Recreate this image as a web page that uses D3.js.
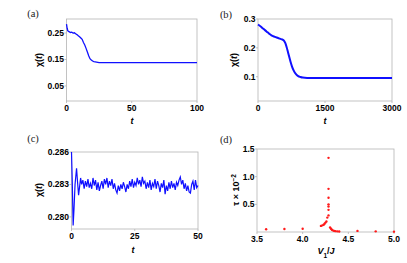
<!DOCTYPE html>
<html>
<head>
<meta charset="utf-8">
<script src="https://d3js.org/d3.v7.min.js"></script>
<style>
body { margin: 0; background: #fff; }
svg text { font-family: "Liberation Sans", Arial, sans-serif; }
.tick-label { font-size: 8.5px; font-weight: bold; fill: #000; }
.frame { fill: none; stroke: #b4b4b4; stroke-width: 0.8; }
.tk { stroke: #b4b4b4; stroke-width: 0.8; }
.plabel { font-family: "Liberation Serif", "DejaVu Serif", serif; font-size: 10.5px; fill: #222; }
.alabel { font-size: 9px; font-weight: bold; fill: #000; }
</style>
</head>
<body>
<svg width="407" height="263"></svg>
<script>
// panel (a)
var aT = [0, 0.5, 1, 1.5, 2, 3, 4, 5, 6, 7, 8, 9, 10, 11, 12, 13, 14, 15, 16, 17, 18, 19, 20, 21, 22, 23, 24, 25, 27, 30, 40, 60, 80, 100];
var aX = [0.284, 0.268, 0.259, 0.256, 0.255, 0.252, 0.253, 0.250, 0.251, 0.247, 0.244, 0.240, 0.236, 0.231, 0.226, 0.214, 0.205, 0.192, 0.178, 0.164, 0.153, 0.148, 0.144, 0.142, 0.141, 0.140, 0.139, 0.138, 0.138, 0.138, 0.138, 0.138, 0.138, 0.138];
var aXTicks = [0, 50, 100];
var aYTicks = [0.05, 0.15, 0.25];

// panel (b)
var bT = [0, 60, 120, 190, 250, 300, 380, 450, 500, 545, 580, 610, 640, 670, 700, 730, 760, 800, 850, 900, 950, 1000, 1100, 1500, 2000, 2500, 3000];
var bX = [0.281, 0.274, 0.266, 0.257, 0.249, 0.243, 0.238, 0.234, 0.231, 0.229, 0.225, 0.217, 0.203, 0.186, 0.168, 0.151, 0.136, 0.121, 0.109, 0.102, 0.099, 0.097, 0.096, 0.096, 0.096, 0.096, 0.096];
var bXTicks = [0, 1500, 3000];
var bYTicks = [0.1, 0.2, 0.3];

// panel (c)
var cT = [0, 0.3, 0.65, 1.0, 1.4, 2.0, 2.4, 2.8, 3.2, 3.6,
  4, 4.5, 5, 5.5, 6, 6.5, 7, 7.5, 8, 8.5, 9, 9.5, 10, 10.5, 11, 11.5, 12, 12.5, 13, 13.5,
  14, 14.5, 15, 15.5, 16, 16.5, 17, 17.5, 18, 18.5, 19, 19.5, 20, 20.5, 21, 21.5, 22, 22.5, 23, 23.5,
  24, 24.5, 25, 25.5, 26, 26.5, 27, 27.5, 28, 28.5, 29, 29.5, 30, 30.5, 31, 31.5, 32, 32.5, 33, 33.5,
  34, 34.5, 35, 35.5, 36, 36.5, 37, 37.5, 38, 38.5, 39, 39.5, 40, 40.5, 41, 41.5, 42, 42.5, 43, 43.5,
  44, 44.5, 45, 45.5, 46, 46.5, 47, 47.5, 48, 48.5, 49, 49.5, 50];
var cX = [0.2860, 0.2833, 0.2792, 0.2808, 0.2830, 0.2845, 0.2832, 0.2820, 0.2828, 0.2836,
  0.2830, 0.2834, 0.2826, 0.2833, 0.2828, 0.2835, 0.2827, 0.2831, 0.2826, 0.2836, 0.2829, 0.2834, 0.2825, 0.2832, 0.2824, 0.2829, 0.2833, 0.2826, 0.2835, 0.2830,
  0.2836, 0.2827, 0.2833, 0.2829, 0.2835, 0.2826, 0.2831, 0.2825, 0.2822, 0.2829, 0.2824, 0.2830, 0.2826, 0.2832, 0.2828, 0.2823, 0.2830, 0.2826, 0.2833, 0.2828,
  0.2835, 0.2827, 0.2832, 0.2829, 0.2836, 0.2830, 0.2834, 0.2828, 0.2837, 0.2831, 0.2833, 0.2826, 0.2832, 0.2827, 0.2834, 0.2825, 0.2831, 0.2828, 0.2835, 0.2826,
  0.2833, 0.2829, 0.2823, 0.2831, 0.2827, 0.2834, 0.2821, 0.2829, 0.2824, 0.2832, 0.2826, 0.2833, 0.2827, 0.2831, 0.2825, 0.2832, 0.2829, 0.2834, 0.2837, 0.2830,
  0.2834, 0.2826, 0.2831, 0.2824, 0.2829, 0.2823, 0.2822, 0.2830, 0.2833, 0.2825, 0.2834, 0.2827, 0.2829];
var cXTicks = [0, 25, 50];
var cYTicks = [0.280, 0.283, 0.286];

// panel (d)
var dV = [3.6, 3.8, 4.0, 4.2, 4.215, 4.23, 4.24, 4.25, 4.26, 4.27, 4.283, 4.283, 4.283, 4.283, 4.283, 4.283, 4.283, 4.30, 4.31, 4.32, 4.33, 4.345, 4.36, 4.38, 4.40, 4.6, 4.8, 5.0];
var dTau = [0.05, 0.055, 0.06, 0.11, 0.12, 0.13, 0.15, 0.17, 0.19, 0.26, 0.40, 0.46, 0.50, 0.62, 0.78, 1.34, 0.30, 0.08, 0.06, 0.04, 0.03, 0.02, 0.015, 0.012, 0.01, 0.02, 0.012, 0.006];
var dXTicks = [3.5, 4.0, 4.5, 5.0];
var dYTicks = [0.5, 1.0, 1.5];

var svg = d3.select("svg");

function panel(box, xs, ys, xt, yt, xfmt, yfmt) {
  var g = svg.append("g");
  g.append("rect").attr("class", "frame")
    .attr("x", box.x0).attr("y", box.y0)
    .attr("width", box.x1 - box.x0).attr("height", box.y1 - box.y0);
  g.selectAll(".ytk").data(yt).enter().append("line").attr("class", "tk")
    .attr("x1", box.x0 - 2).attr("x2", box.x0)
    .attr("y1", function(d){ return ys(d); }).attr("y2", function(d){ return ys(d); });
  g.selectAll(".xtk").data(xt).enter().append("line").attr("class", "tk")
    .attr("y1", box.y1).attr("y2", box.y1 + 2)
    .attr("x1", function(d){ return xs(d); }).attr("x2", function(d){ return xs(d); });
  g.selectAll(".yl").data(yt).enter().append("text").attr("class", "tick-label")
    .attr("x", box.x0 - 2.5).attr("y", function(d){ return ys(d) + 3; })
    .attr("text-anchor", "end").text(yfmt);
  g.selectAll(".xl").data(xt).enter().append("text").attr("class", "tick-label")
    .attr("x", function(d){ return xs(d); }).attr("y", box.y1 + 10)
    .attr("text-anchor", "middle").text(xfmt);
  return g;
}

function italicLabel(x, y, rot, parts) {
  var t = svg.append("text").attr("class", "alabel")
    .attr("transform", "translate(" + x + "," + y + ")" + (rot ? " rotate(-90)" : ""))
    .attr("text-anchor", "middle");
  parts.forEach(function(p) {
    var s = t.append("tspan").text(p.s);
    if (p.i) s.attr("font-style", "italic");
    if (p.sup) s.attr("baseline-shift", "super").attr("font-size", "6.5px");
    if (p.sub) s.attr("baseline-shift", "sub").attr("font-size", "6.5px");
  });
}

var chiParts = [{s: "\u03c7("}, {s: "t", i: true}, {s: ")"}];

// (a)
var boxA = {x0: 66.5, x1: 197, y0: 19, y1: 101};
var xA = d3.scaleLinear().domain([0, 100]).range([boxA.x0, boxA.x1]);
var yA = d3.scaleLinear().domain([-0.007, 0.303]).range([boxA.y1, boxA.y0]);
var gA = panel(boxA, xA, yA, aXTicks, aYTicks, d3.format("d"), d3.format(".2f"));
gA.append("path").datum(d3.zip(aT, aX))
  .attr("fill", "none").attr("stroke", "#1010ff").attr("stroke-width", 1.3)
  .attr("d", d3.line().x(function(d){ return xA(d[0]); }).y(function(d){ return yA(d[1]); }));

// (b)
var boxB = {x0: 258, x1: 392, y0: 19, y1: 101};
var xB = d3.scaleLinear().domain([0, 3000]).range([boxB.x0, boxB.x1]);
var yB = d3.scaleLinear().domain([0.016, 0.3]).range([boxB.y1, boxB.y0]);
var gB = panel(boxB, xB, yB, bXTicks, bYTicks, d3.format("d"), d3.format(".1f"));
gB.append("path").datum(d3.zip(bT, bX))
  .attr("fill", "none").attr("stroke", "#1010ff").attr("stroke-width", 2)
  .attr("d", d3.line().curve(d3.curveMonotoneX).x(function(d){ return xB(d[0]); }).y(function(d){ return yB(d[1]); }));

// (c)
var boxC = {x0: 71.5, x1: 198, y0: 152, y1: 229};
var xC = d3.scaleLinear().domain([0, 50]).range([boxC.x0, boxC.x1]);
var yC = d3.scaleLinear().domain([0.27888, 0.2860]).range([boxC.y1, boxC.y0]);
var gC = panel(boxC, xC, yC, cXTicks, cYTicks, d3.format("d"), d3.format(".3f"));
gC.append("path").datum(d3.zip(cT, cX))
  .attr("fill", "none").attr("stroke", "#1010ff").attr("stroke-width", 1.2)
  .attr("d", d3.line().x(function(d){ return xC(d[0]); }).y(function(d){ return yC(d[1]); }));

// (d)
var boxD = {x0: 257, x1: 394, y0: 149, y1: 232};
var xD = d3.scaleLinear().domain([3.5, 5.0]).range([boxD.x0, boxD.x1]);
var yD = d3.scaleLinear().domain([0, 1.5]).range([boxD.y1, boxD.y0]);
var gD = panel(boxD, xD, yD, dXTicks, dYTicks, d3.format(".1f"), d3.format(".1f"));
gD.selectAll("circle").data(d3.zip(dV, dTau)).enter().append("circle")
  .attr("cx", function(d){ return xD(d[0]); }).attr("cy", function(d){ return yD(d[1]); })
  .attr("r", 1.2).attr("fill", "#ff1a1a");

// axis titles
italicLabel(42, 60, true, chiParts);
italicLabel(237, 60, true, chiParts);
italicLabel(42, 190, true, chiParts);
italicLabel(239, 190, true, [{s: "\u03c4 \u00d7 10"}, {s: "\u22122", sup: true}]);
italicLabel(132, 124, false, [{s: "t", i: true}]);
italicLabel(325, 124, false, [{s: "t", i: true}]);
italicLabel(133, 253, false, [{s: "t", i: true}]);
italicLabel(326, 254, false, [{s: "V", i: true}, {s: "1", sub: true}, {s: "/"}, {s: "J", i: true}]);

// panel letters
[["(a)", 33, 17], ["(b)", 226, 18], ["(c)", 33, 142], ["(d)", 226, 143]].forEach(function(p) {
  svg.append("text").attr("class", "plabel").attr("x", p[1]).attr("y", p[2])
    .attr("text-anchor", "middle").text(p[0]);
});
</script>
</body>
</html>
